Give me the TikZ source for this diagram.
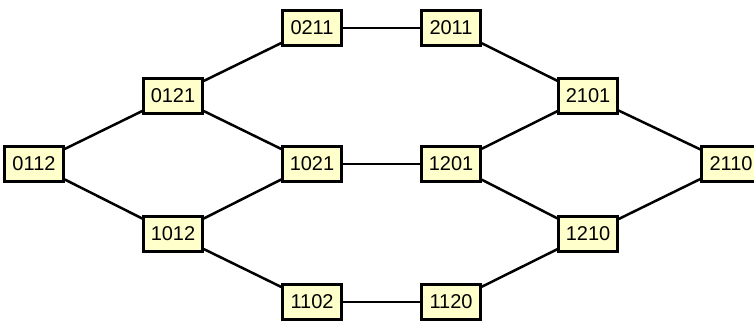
\documentclass[tikz,border=0pt]{standalone}
\usepackage{fontspec}
\setmainfont{Liberation Sans}
\definecolor{boxfill}{HTML}{FFFFCC}
\begin{document}
\begin{tikzpicture}[x=1pt,y=-1pt,
  perm/.style={draw=black, fill=boxfill, line width=2.5pt, minimum width=59pt, minimum height=35pt, inner sep=0pt, font=\fontsize{20}{20}\selectfont},
  link/.style={line width=2.5pt, black}]
\useasboundingbox (0,0) rectangle (754,326);
\clip (0,0) rectangle (754,326);
\node[perm] (n0112) at (34,164) {0112};
\node[perm] (n0121) at (173,96) {0121};
\node[perm] (n1012) at (173,234) {1012};
\node[perm] (n0211) at (312,28) {0211};
\node[perm] (n1021) at (312,164) {1021};
\node[perm] (n1102) at (312,302) {1102};
\node[perm] (n2011) at (451,28) {2011};
\node[perm] (n1201) at (451,164) {1201};
\node[perm] (n1120) at (451,302) {1120};
\node[perm] (n2101) at (588,96) {2101};
\node[perm] (n1210) at (588,234) {1210};
\node[perm] (n2110) at (731,164) {2110};
\draw[link] (n0112) -- (n0121);
\draw[link] (n0112) -- (n1012);
\draw[link] (n0121) -- (n0211);
\draw[link] (n0121) -- (n1021);
\draw[link] (n1012) -- (n1021);
\draw[link] (n1012) -- (n1102);
\draw[link] (n0211) -- (n2011);
\draw[link] (n1021) -- (n1201);
\draw[link] (n1102) -- (n1120);
\draw[link] (n2011) -- (n2101);
\draw[link] (n1201) -- (n2101);
\draw[link] (n1201) -- (n1210);
\draw[link] (n1120) -- (n1210);
\draw[link] (n2101) -- (n2110);
\draw[link] (n1210) -- (n2110);
\end{tikzpicture}
\end{document}
